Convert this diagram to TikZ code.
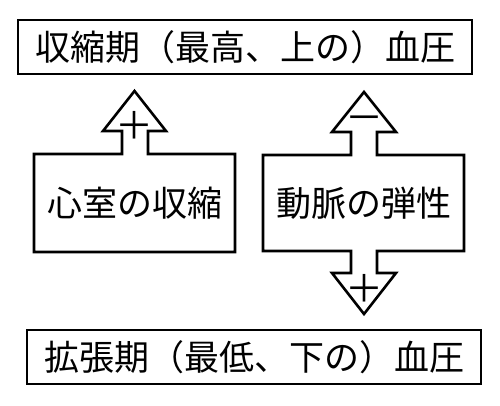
\documentclass[tikz,border=0pt]{standalone}
\usepackage{fontspec}
\newfontfamily\cjk{Noto Sans CJK JP}
\begin{document}
\begin{tikzpicture}[x=1pt,y=-1pt,
  outl/.style={line width=2.6pt, line join=miter, draw=black},
  lbl/.style={font=\cjk\fontsize{35}{40}\selectfont, inner sep=0pt, anchor=center},
  sgn/.style={font=\cjk\fontsize{38}{40}\selectfont, inner sep=0pt, anchor=center}]
\useasboundingbox (0,0) rectangle (500,405);
\fill[white] (0,0) rectangle (500,405);
% top and bottom boxes
\node[outl, minimum width=454pt, minimum height=54pt, inner sep=0pt] (top) at (245,47) {};
\node[lbl] (toptxt) at (top.center) {収縮期（最高、上の）血圧};
\node[outl, minimum width=454pt, minimum height=54pt, inner sep=0pt] (bot) at (254,357) {};
\node[lbl] (bottxt) at (bot.center) {拡張期（最低、下の）血圧};
% left box with up arrow
\coordinate (lt) at (134.5,91);
\draw[outl] (34,154) -- (122,154) -- (122,131) -- (103,131) -- (lt) -- (166,131)
  -- (148,131) -- (148,154) -- (235,154) -- (235,252) -- (34,252) -- cycle;
\node[lbl] (ltxt) at (134.5,203) {心室の収縮};
\node[sgn] (lplus) at (134.5,125) {＋};
% right box with up and down arrows
\coordinate (rt) at (364,92);
\coordinate (rb) at (364,314);
\draw[outl] (263,155) -- (351,155) -- (351,132) -- (332,132) -- (rt) -- (396,132)
  -- (377,132) -- (377,155) -- (464,155) -- (464,251) -- (377,251) -- (377,273)
  -- (396,273) -- (rb) -- (332,273) -- (351,273) -- (351,251) -- (263,251) -- cycle;
\node[lbl] (rtxt) at (363.5,203) {動脈の弾性};
\node[sgn] (rminus) at (364,124) {－};
\node[sgn] (rplus) at (364,288) {＋};
\end{tikzpicture}
\end{document}
